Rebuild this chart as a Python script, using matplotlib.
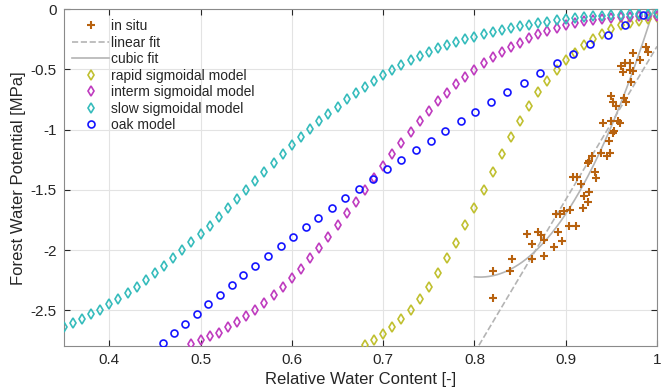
import numpy as np
import matplotlib
matplotlib.use("Agg")
import matplotlib.pyplot as plt
from matplotlib.ticker import FuncFormatter

plt.rcParams['font.family'] = ['Liberation Sans', 'DejaVu Sans']

# ---------------- data ----------------
slow_rwc = [0.35, 0.36, 0.37, 0.38, 0.39, 0.40, 0.41, 0.42, 0.43, 0.44, 0.45, 0.46, 0.47, 0.48, 0.49,
            0.50, 0.51, 0.52, 0.53, 0.54, 0.55, 0.56, 0.57, 0.58, 0.59, 0.60, 0.61, 0.62, 0.63, 0.64,
            0.65, 0.66, 0.67, 0.68, 0.69, 0.70, 0.71, 0.72, 0.73, 0.74, 0.75, 0.76, 0.77, 0.78, 0.79,
            0.80, 0.81, 0.82, 0.83, 0.84, 0.85, 0.86, 0.87, 0.88, 0.89, 0.90, 0.91, 0.92, 0.93, 0.94,
            0.95, 0.96, 0.97, 0.98, 0.99, 1.00]
slow_psi = [-2.636, -2.603, -2.572, -2.533, -2.497, -2.450, -2.403, -2.359, -2.304, -2.248, -2.190,
            -2.132, -2.068, -2.002, -1.935, -1.866, -1.797, -1.722, -1.648, -1.576, -1.501, -1.423,
            -1.349, -1.277, -1.202, -1.127, -1.058, -0.994, -0.928, -0.870, -0.809, -0.748, -0.698,
            -0.643, -0.593, -0.546, -0.501, -0.460, -0.424, -0.388, -0.355, -0.324, -0.297, -0.269,
            -0.247, -0.227, -0.204, -0.188, -0.172, -0.155, -0.141, -0.128, -0.114, -0.103, -0.091,
            -0.081, -0.071, -0.064, -0.058, -0.053, -0.048, -0.045, -0.042, -0.039, -0.036, -0.034]

interm_rwc = [0.49, 0.50, 0.51, 0.52, 0.53, 0.54, 0.55, 0.56, 0.57, 0.58, 0.59, 0.60, 0.61, 0.62,
              0.63, 0.64, 0.65, 0.66, 0.67, 0.68, 0.69, 0.70, 0.71, 0.72, 0.73, 0.74, 0.75, 0.76,
              0.77, 0.78, 0.79, 0.80, 0.81, 0.82, 0.83, 0.84, 0.85, 0.86, 0.87, 0.88, 0.89, 0.90,
              0.91, 0.92, 0.93, 0.94, 0.95, 0.96, 0.97, 0.98, 0.99, 1.00]
interm_psi = [-2.780, -2.749, -2.713, -2.686, -2.639, -2.597, -2.550, -2.497, -2.439, -2.375, -2.305,
              -2.231, -2.153, -2.066, -1.980, -1.894, -1.794, -1.694, -1.598, -1.501, -1.404, -1.299,
              -1.202, -1.108, -1.016, -0.928, -0.845, -0.764, -0.693, -0.623, -0.562, -0.501, -0.445,
              -0.399, -0.357, -0.316, -0.277, -0.241, -0.208, -0.180, -0.153, -0.130, -0.114, -0.100,
              -0.089, -0.081, -0.072, -0.067, -0.062, -0.058, -0.056, -0.054]

rapid_rwc = [0.68, 0.69, 0.70, 0.71, 0.72, 0.73, 0.74, 0.75, 0.76, 0.77, 0.78, 0.79, 0.80, 0.81,
             0.82, 0.83, 0.84, 0.85, 0.86, 0.87, 0.88, 0.89, 0.90, 0.91, 0.92, 0.93, 0.94, 0.95,
             0.96, 0.97, 0.98, 0.99, 1.00]
rapid_psi = [-2.788, -2.749, -2.697, -2.639, -2.572, -2.495, -2.404, -2.306, -2.193, -2.068, -1.938,
             -1.794, -1.648, -1.501, -1.349, -1.202, -1.058, -0.925, -0.803, -0.690, -0.593, -0.504,
             -0.424, -0.360, -0.296, -0.247, -0.205, -0.166, -0.133, -0.114, -0.097, -0.083, -0.067]

oak_rwc = [0.985, 0.965, 0.946, 0.927, 0.908, 0.890, 0.872, 0.854, 0.836, 0.818, 0.801, 0.785,
           0.768, 0.752, 0.736, 0.720, 0.704, 0.689, 0.673, 0.658, 0.644, 0.629, 0.615, 0.601,
           0.588, 0.574, 0.560, 0.547, 0.534, 0.521, 0.508, 0.496, 0.483, 0.471, 0.459]
oak_psi = [-0.05, -0.13, -0.21, -0.29, -0.37, -0.45, -0.53, -0.61, -0.69, -0.77, -0.85, -0.93,
           -1.01, -1.09, -1.17, -1.25, -1.33, -1.41, -1.49, -1.57, -1.65, -1.73, -1.81, -1.89,
           -1.97, -2.05, -2.13, -2.21, -2.29, -2.37, -2.45, -2.53, -2.61, -2.69, -2.77]

insitu_rwc = [0.988, 0.990, 0.974, 0.981, 0.961, 0.965, 0.970, 0.963, 0.970, 0.974, 0.972, 0.950,
              0.952, 0.964, 0.966, 0.955, 0.941, 0.950, 0.957, 0.959, 0.953, 0.952, 0.947, 0.939,
              0.948, 0.945, 0.929, 0.925, 0.924, 0.932, 0.933, 0.908, 0.912, 0.917, 0.926, 0.920,
              0.924, 0.919, 0.905, 0.898, 0.894, 0.889, 0.904, 0.911, 0.892, 0.896, 0.887, 0.876,
              0.870, 0.873, 0.858, 0.863, 0.876, 0.841, 0.863, 0.839, 0.820, 0.820]
insitu_psi = [-0.311, -0.352, -0.365, -0.421, -0.467, -0.444, -0.444, -0.518, -0.504, -0.510, -0.601,
              -0.723, -0.770, -0.733, -0.770, -0.803, -0.947, -0.925, -0.925, -0.947, -1.008, -1.030,
              -1.096, -1.196, -1.196, -1.218, -1.218, -1.260, -1.279, -1.349, -1.399, -1.397, -1.397,
              -1.447, -1.520, -1.547, -1.598, -1.650, -1.667, -1.675, -1.700, -1.700, -1.797, -1.797,
              -1.848, -1.922, -1.973, -2.049, -1.847, -1.873, -1.870, -1.948, -1.919, -2.071, -2.071,
              -2.176, -2.175, -2.395]

x_ticks = [0.4, 0.5, 0.6, 0.7, 0.8, 0.9, 1.0]
y_ticks = [0, -0.5, -1, -1.5, -2, -2.5]

# ---------------- figure ----------------
fig = plt.figure(figsize=(6.62, 3.89), dpi=100)
ax = fig.add_axes([0.0961, 0.1095, 0.8964, 0.8666])

c_insitu = '#b8620f'
c_rapid = '#c0c030'
c_interm = '#bf3cbf'
c_slow = '#36bcbc'
c_oak = '#1414ff'
c_fit = '#b4b4b4'

ax.plot(insitu_rwc, insitu_psi, '+', color=c_insitu, ms=6, mew=1.5, label='in situ', zorder=3)

xr = np.array(insitu_rwc)
yr = np.array(insitu_psi)
lin = np.polyfit(xr, yr, 1)
cub = np.polyfit(xr, yr, 3)
xf = np.linspace(0.8, 1.0, 200)
ax.plot(xf, np.polyval(lin, xf), '--', color=c_fit, lw=1.2, label='linear fit', zorder=2)
ax.plot(xf, np.polyval(cub, xf), '-', color=c_fit, lw=1.2, label='cubic fit', zorder=2)

mk = dict(linestyle='none', mfc='none', mew=1.2, zorder=4)
ax.plot(rapid_rwc, rapid_psi, marker='d', ms=5.5, color=c_rapid, label='rapid sigmoidal model', **mk)
ax.plot(interm_rwc, interm_psi, marker='d', ms=5.5, color=c_interm, label='interm sigmoidal model', **mk)
ax.plot(slow_rwc, slow_psi, marker='d', ms=5.5, color=c_slow, label='slow sigmoidal model', **mk)
ax.plot(oak_rwc, oak_psi, marker='o', ms=5, color=c_oak, label='oak model', **mk)

ax.set_xlim(0.35, 1.0)
ax.set_ylim(-2.8, 0)
ax.set_xticks(x_ticks)
ax.set_yticks(y_ticks)
fmt = FuncFormatter(lambda v, p: ('%g' % v).replace('\u2212', '-'))
ax.xaxis.set_major_formatter(fmt)
ax.yaxis.set_major_formatter(fmt)

ax.grid(True, color='#e3e3e3', lw=0.8)
ax.set_axisbelow(True)
ax.tick_params(direction='in', length=4, width=0.8, top=True, right=True,
               labelsize=11, colors='#262626', pad=5)
for s in ax.spines.values():
    s.set_color('#8a8a8a')
    s.set_linewidth(0.8)

ax.set_xlabel('Relative Water Content [-]', fontsize=12, color='#262626', labelpad=3)
ax.set_ylabel('Forest Water Potential [MPa]', fontsize=12, color='#262626', labelpad=3)

leg = ax.legend(loc='upper left', bbox_to_anchor=(0.0, 0.995), frameon=False, fontsize=10,
                handlelength=2.7, handletextpad=0.1, labelspacing=0.18, borderaxespad=0.2)
for t in leg.get_texts():
    t.set_color('#262626')

fig.savefig('out.png', dpi=100)
